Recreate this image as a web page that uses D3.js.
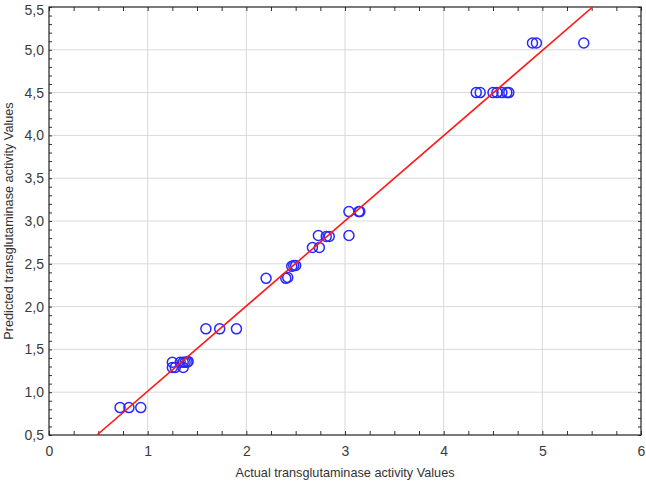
<!DOCTYPE html>
<html>
<head>
<meta charset="utf-8">
<script src="https://cdn.jsdelivr.net/npm/d3@7"></script>
<style>
  body { margin: 0; background: #fff; }
  svg { font-family: "Liberation Sans", Arial, sans-serif; }
</style>
</head>
<body>
<svg id="chart" width="646" height="484"></svg>
<script>
// actual vs predicted values
const actualVals = [0.72, 0.81, 0.93,
  1.25, 1.25, 1.28, 1.33, 1.36, 1.36, 1.38, 1.40, 1.41,
  1.59, 1.73, 1.90,
  2.20, 2.40, 2.42,
  2.46, 2.48, 2.50,
  2.67, 2.74,
  2.73, 2.81, 2.84, 3.04,
  3.04, 3.14, 3.15,
  4.33, 4.37, 4.50, 4.54, 4.59, 4.64, 4.66,
  4.90, 4.94, 5.42];
const predictedVals = [0.82, 0.82, 0.82,
  1.35, 1.29, 1.29, 1.35, 1.35, 1.29, 1.35, 1.35, 1.36,
  1.74, 1.74, 1.74,
  2.33, 2.33, 2.34,
  2.47, 2.48, 2.48,
  2.69, 2.69,
  2.83, 2.82, 2.82, 2.83,
  3.11, 3.11, 3.11,
  4.50, 4.50, 4.50, 4.50, 4.50, 4.50, 4.50,
  5.08, 5.08, 5.08];

// fitted line end points
const fitX = [0.486, 5.51];
const fitY = [0.5, 5.5];

const xTicks = [0, 1, 2, 3, 4, 5, 6];
const yTicks = [0.5, 1.0, 1.5, 2.0, 2.5, 3.0, 3.5, 4.0, 4.5, 5.0, 5.5];

const margin = { top: 7, right: 5, bottom: 49, left: 49 };
const width = 646, height = 484;
const innerW = width - margin.left - margin.right;
const innerH = height - margin.top - margin.bottom;

const svg = d3.select('#chart');
const g = svg.append('g').attr('transform', `translate(${margin.left},${margin.top})`);

const x = d3.scaleLinear().domain([0, 6]).range([0, innerW]);
const y = d3.scaleLinear().domain([0.5, 5.5]).range([innerH, 0]);

const fmt = d => d3.format('.1f')(d).replace('.', ',');

// grid
g.append('g').selectAll('line').data(xTicks.slice(1, -1)).enter().append('line')
  .attr('x1', d => x(d)).attr('x2', d => x(d)).attr('y1', 0).attr('y2', innerH)
  .attr('stroke', '#d9d9d9').attr('stroke-width', 1);
g.append('g').selectAll('line').data(yTicks.slice(1, -1)).enter().append('line')
  .attr('y1', d => y(d)).attr('y2', d => y(d)).attr('x1', 0).attr('x2', innerW)
  .attr('stroke', '#d9d9d9').attr('stroke-width', 1);

// inward ticks on all four sides
const xMinor = d3.range(0, 6.001, 0.25);
const yMinor = d3.range(0.5, 5.501, 0.1);

function styleAxis(sel) {
  sel.select('.domain').remove();
  sel.selectAll('line').attr('stroke', '#333');
  sel.selectAll('text').attr('fill', '#3a3a3a').style('font-size', '14px');
}

g.append('g').attr('transform', `translate(0,${innerH})`)
  .call(d3.axisBottom(x).tickValues(xMinor).tickSize(-4).tickFormat(''))
  .call(styleAxis);
g.append('g').attr('transform', `translate(0,${innerH})`)
  .call(d3.axisBottom(x).tickValues(xTicks).tickSize(0).tickPadding(11).tickFormat(d3.format('d')))
  .call(styleAxis);
g.append('g')
  .call(d3.axisTop(x).tickValues(xMinor).tickSize(-4).tickFormat(''))
  .call(styleAxis);

g.append('g')
  .call(d3.axisLeft(y).tickValues(yMinor).tickSize(-3).tickFormat(''))
  .call(styleAxis);
const yLab = g.append('g')
  .call(d3.axisLeft(y).tickValues(yTicks).tickSize(0).tickPadding(5).tickFormat(fmt))
  .call(styleAxis);
// keep the top label inside the page
yLab.selectAll('text').filter(d => d === 5.5).attr('dy', '0.55em');
g.append('g').attr('transform', `translate(${innerW},0)`)
  .call(d3.axisRight(y).tickValues(yMinor).tickSize(-3).tickFormat(''))
  .call(styleAxis);

// frame
g.append('rect').attr('width', innerW).attr('height', innerH)
  .attr('fill', 'none').attr('stroke', '#222').attr('stroke-width', 1.2);

// points
const clip = svg.append('defs').append('clipPath').attr('id', 'plotClip')
  .append('rect').attr('width', innerW).attr('height', innerH);

g.append('g').selectAll('circle').data(actualVals).enter().append('circle')
  .attr('cx', (d, i) => x(d))
  .attr('cy', (d, i) => y(predictedVals[i]))
  .attr('r', 5)
  .attr('fill', 'none')
  .attr('stroke', '#2828ff')
  .attr('stroke-width', 1.5);

// fit line
g.append('line')
  .attr('clip-path', 'url(#plotClip)')
  .attr('x1', x(fitX[0])).attr('y1', y(fitY[0]))
  .attr('x2', x(fitX[1])).attr('y2', y(fitY[1]))
  .attr('stroke', '#ff1a1a').attr('stroke-width', 1.6);

// axis labels
svg.append('text')
  .attr('x', margin.left + innerW / 2).attr('y', 477)
  .attr('text-anchor', 'middle').attr('fill', '#333').style('font-size', '12.7px')
  .text('Actual transglutaminase activity Values');
svg.append('text')
  .attr('transform', `translate(13,${margin.top + innerH / 2}) rotate(-90)`)
  .attr('text-anchor', 'middle').attr('fill', '#333').style('font-size', '12.7px')
  .text('Predicted transglutaminase activity Values');
</script>
</body>
</html>
